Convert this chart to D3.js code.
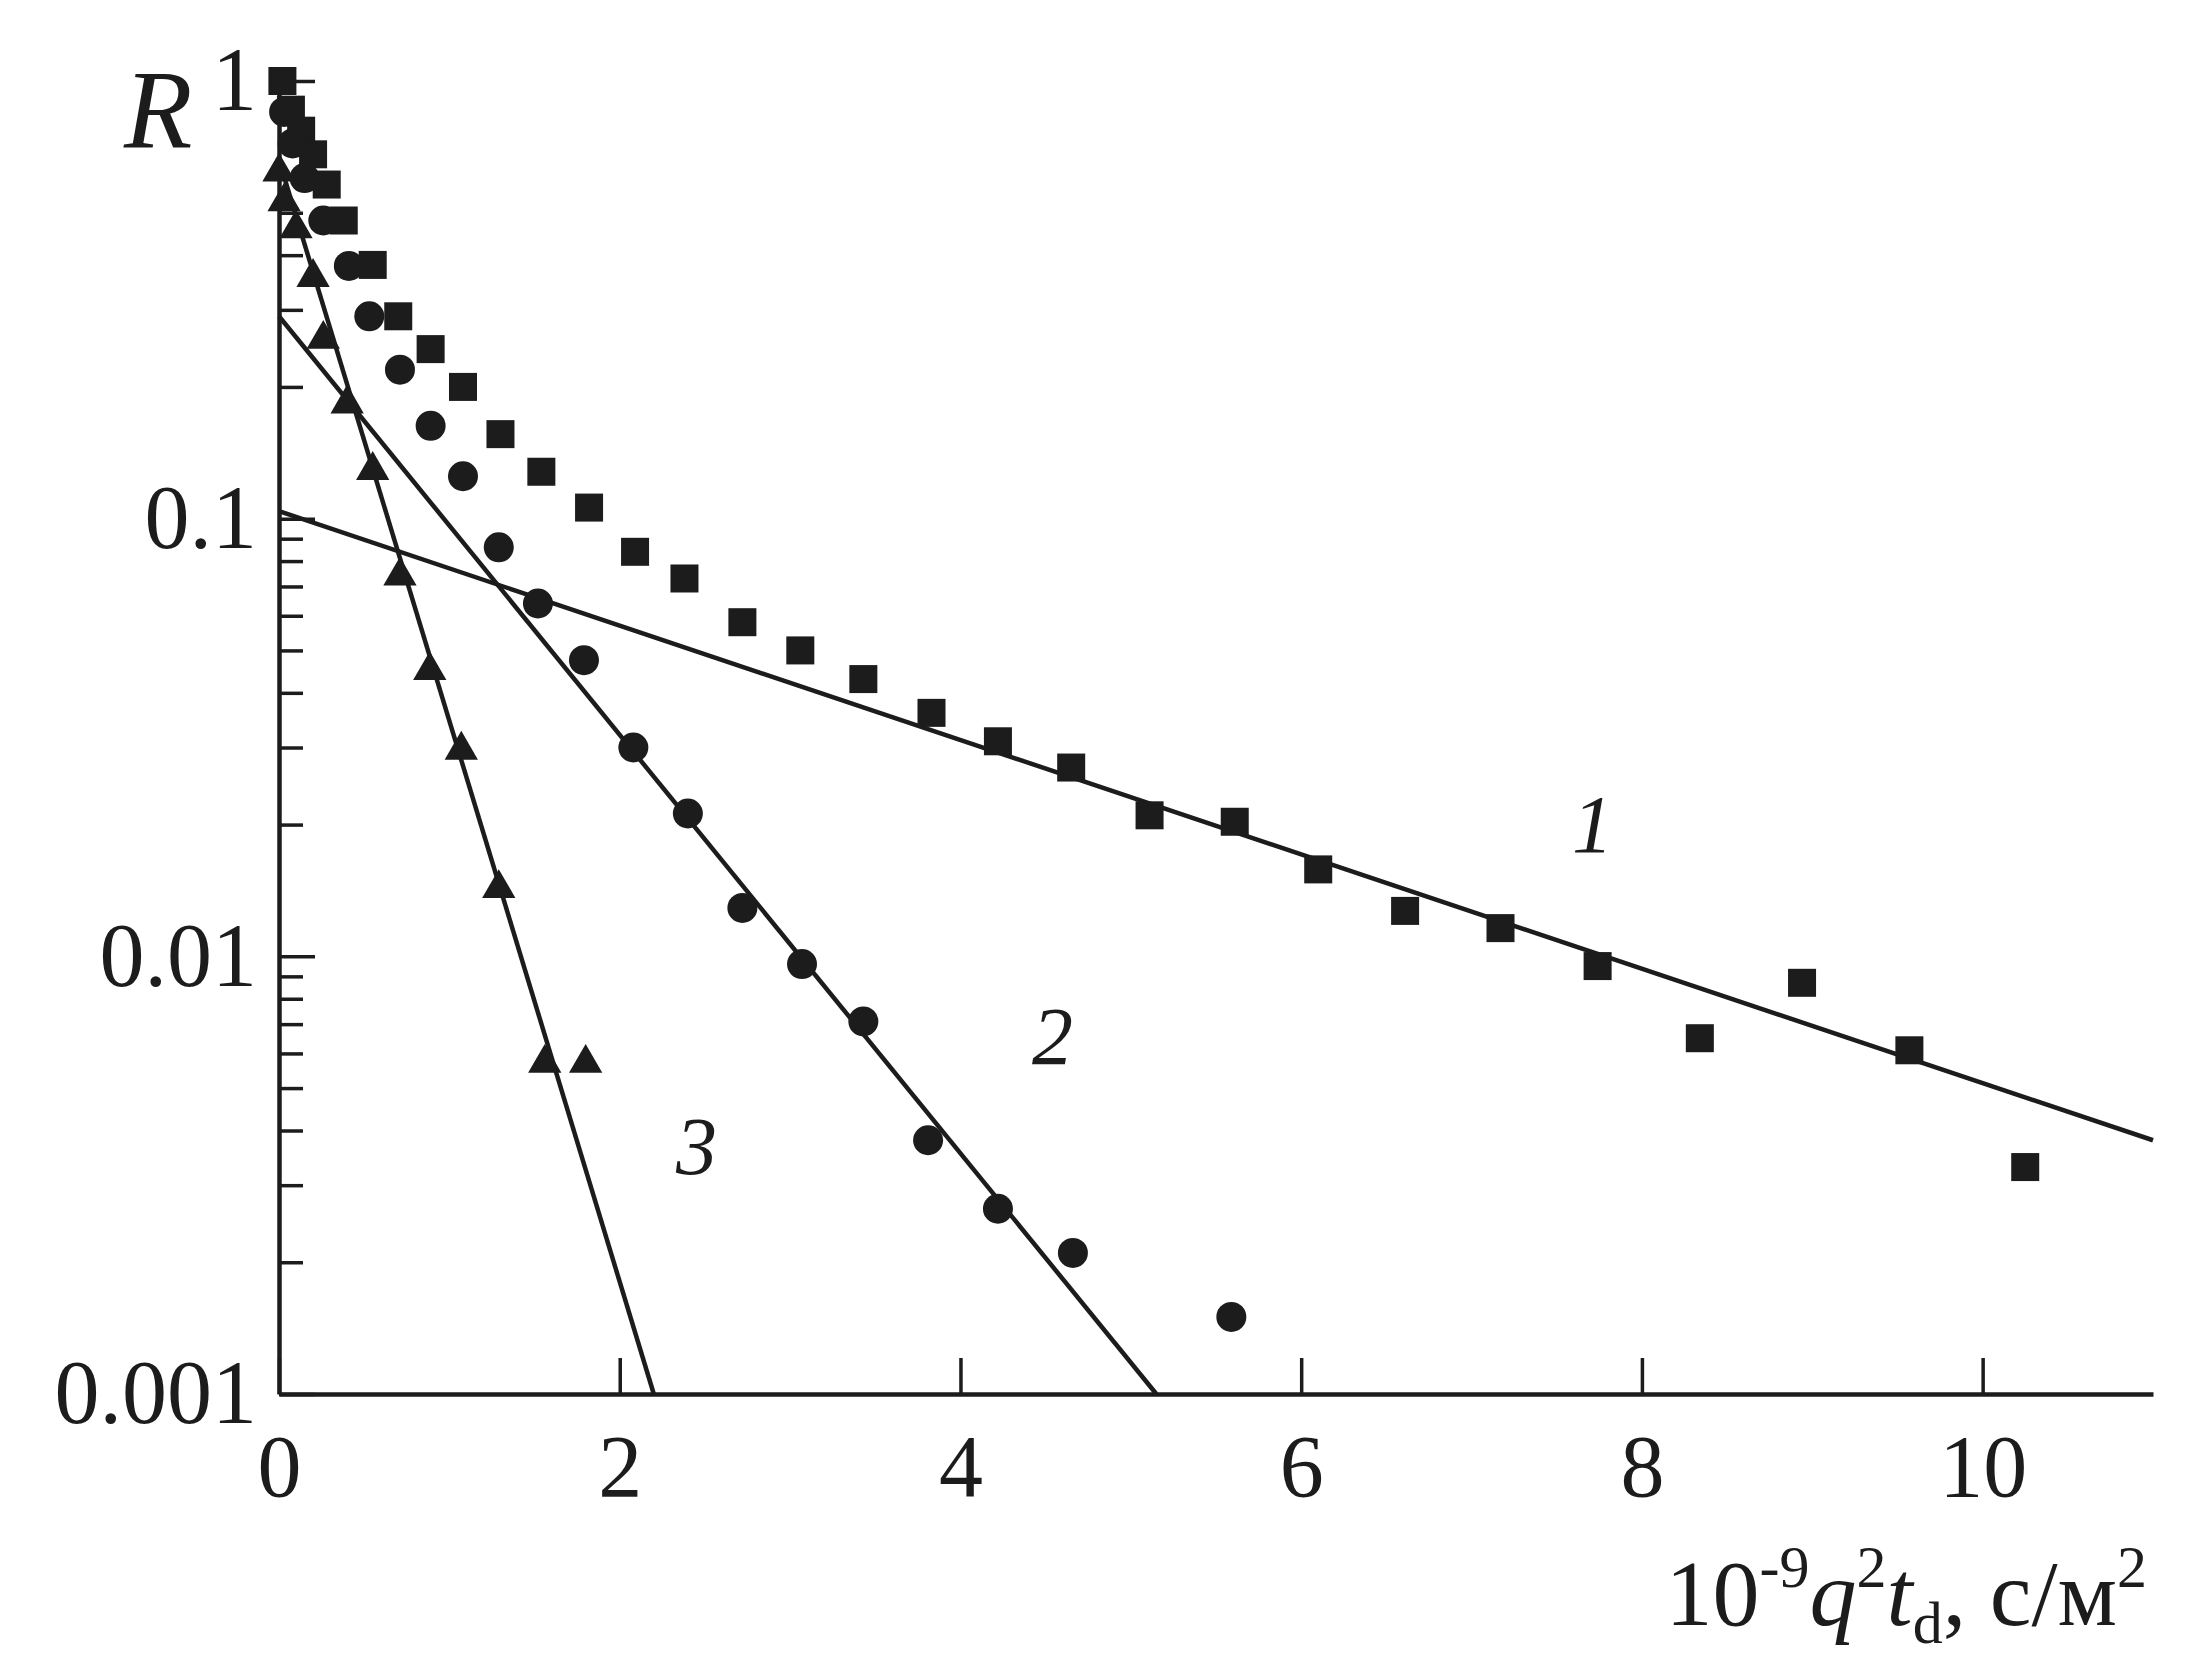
<!DOCTYPE html>
<html>
<head>
<meta charset="utf-8">
<script src="https://cdn.jsdelivr.net/npm/d3@7"></script>
<style>
  body { margin: 0; background: #fff; }
  text { font-family: "Liberation Serif", "DejaVu Serif", serif; fill: #1c1c1c; }
</style>
</head>
<body>
<div id="master"></div>
<script>
// curve 1 (squares)
let sqX = [0.02, 0.07, 0.13, 0.20, 0.28, 0.38, 0.55, 0.70, 0.89, 1.08, 1.30, 1.54, 1.82, 2.09, 2.38, 2.72, 3.06, 3.43, 3.83, 4.22, 4.65, 5.11, 5.61, 6.10, 6.61, 7.17, 7.74, 8.34, 8.94, 9.57, 10.25]
let sqR = [1.0, 0.86, 0.77, 0.68, 0.58, 0.48, 0.38, 0.29, 0.244, 0.20, 0.156, 0.128, 0.106, 0.084, 0.073, 0.058, 0.050, 0.043, 0.036, 0.031, 0.027, 0.021, 0.0203, 0.0158, 0.0127, 0.0116, 0.0095, 0.0065, 0.0087, 0.0061, 0.0033]
// curve 2 (circles)
let ciX = [0.03, 0.08, 0.15, 0.26, 0.41, 0.53, 0.71, 0.89, 1.08, 1.29, 1.52, 1.79, 2.08, 2.40, 2.72, 3.07, 3.43, 3.81, 4.22, 4.66, 5.59]
let ciR = [0.85, 0.72, 0.60, 0.48, 0.378, 0.29, 0.219, 0.163, 0.125, 0.086, 0.064, 0.0475, 0.030, 0.0212, 0.0129, 0.0096, 0.0071, 0.0038, 0.00265, 0.0021, 0.0015]
// curve 3 (triangles)
let trX = [0.0, 0.03, 0.10, 0.20, 0.26, 0.40, 0.55, 0.71, 0.885, 1.07, 1.29, 1.56, 1.80]
let trR = [0.62, 0.53, 0.46, 0.356, 0.257, 0.183, 0.129, 0.074, 0.045, 0.0296, 0.0143, 0.0057, 0.0057]

// fitted straight lines (end points)
let fit1X = [0, 11],   fit1R = [0.104, 0.0038]
let fit2X = [0, 5.15], fit2R = [0.29, 0.001]
let fit3X = [0, 2.2],  fit3R = [0.66, 0.001]

// curve numbers
let curveNames = ["1", "2", "3"]
let nameX = [7.71, 4.54, 2.45]
let nameR = [0.0201, 0.0066, 0.0037]

let xTicks = [0, 2, 4, 6, 8, 10]
let yTicks = [1, 0.1, 0.01, 0.001]
let yTickLabels = ["1", "0.1", "0.01", "0.001"]

let w = 2193, h = 1677
let ink = "#1c1c1c"

let svg = d3.select("#master").append("svg").attr("width", w).attr("height", h)

let xScale = d3.scaleLinear().domain([0, 11]).range([279, 2153])
let yScale = d3.scaleLog().domain([0.001, 1]).range([1394, 81])

// minor log ticks
let minors = []
;[0.001, 0.01, 0.1].forEach(b => { for (let k = 2; k <= 9; k++) minors.push(b * k) })

let yMinor = d3.axisLeft(yScale).tickValues(minors).tickSizeInner(-24).tickSizeOuter(0).tickFormat("")
let gMinor = svg.append("g").attr("transform", "translate(" + xScale(0) + ",0)").call(yMinor)
gMinor.select(".domain").remove()

let yAxis = d3.axisLeft(yScale).tickValues(yTicks).tickSizeInner(-36).tickSizeOuter(0).tickPadding(22)
  .tickFormat((d, i) => yTickLabels[i])
let gy = svg.append("g").attr("transform", "translate(" + xScale(0) + ",0)").call(yAxis)

let xAxis = d3.axisBottom(xScale).tickValues(xTicks).tickSizeInner(-36).tickSizeOuter(0).tickPadding(40)
let gx = svg.append("g").attr("transform", "translate(0," + yScale(0.001) + ")").call(xAxis)

svg.selectAll(".tick line").attr("stroke", ink).attr("stroke-width", 3.5)
svg.selectAll(".domain").attr("stroke", ink).attr("stroke-width", 4.5)
svg.selectAll(".tick text").attr("fill", ink)
  .style("font-family", "'Liberation Serif', serif")
gy.selectAll(".tick text").attr("font-size", 90).attr("dy", "0.32em")
gx.selectAll(".tick text").attr("font-size", 88).attr("dy", "0.71em")

// fitted lines
let line = d3.line().x(d => xScale(d[0])).y(d => yScale(d[1]))
;[[fit1X, fit1R], [fit2X, fit2R], [fit3X, fit3R]].forEach(f => {
  svg.append("path")
    .attr("d", line(d3.zip(f[0], f[1])))
    .attr("fill", "none").attr("stroke", ink).attr("stroke-width", 4.5)
})

// squares
let sq = 28
svg.append("g").selectAll("rect").data(d3.zip(sqX, sqR)).enter().append("rect")
  .attr("x", d => xScale(d[0]) - sq / 2)
  .attr("y", d => yScale(d[1]) - sq / 2)
  .attr("width", sq).attr("height", sq)
  .attr("fill", ink)

// circles
svg.append("g").selectAll("circle").data(d3.zip(ciX, ciR)).enter().append("circle")
  .attr("cx", d => xScale(d[0]))
  .attr("cy", d => yScale(d[1]))
  .attr("r", 15)
  .attr("fill", ink)

// triangles
let tri = d3.symbol().type(d3.symbolTriangle).size(480)
svg.append("g").selectAll("path").data(d3.zip(trX, trR)).enter().append("path")
  .attr("d", tri)
  .attr("transform", d => "translate(" + xScale(d[0]) + "," + yScale(d[1]) + ")")
  .attr("fill", ink)

// curve numbers
svg.append("g").selectAll("text").data(curveNames).enter().append("text")
  .attr("x", (d, i) => xScale(nameX[i]))
  .attr("y", (d, i) => yScale(nameR[i]))
  .attr("dy", "0.35em")
  .attr("text-anchor", "middle")
  .attr("font-size", 82)
  .attr("font-style", "italic")
  .text(d => d)

// y title
svg.append("text").attr("x", 124).attr("y", 147)
  .attr("font-size", 112).attr("font-style", "italic").text("R")

// x title
let xt = svg.append("text").attr("x", 2147).attr("y", 1625)
  .attr("text-anchor", "end").attr("font-size", 94)
xt.append("tspan").text("10")
xt.append("tspan").attr("dy", -38).attr("font-size", 60).text("-9")
xt.append("tspan").attr("dy", 38).attr("font-style", "italic").text("q")
xt.append("tspan").attr("dy", -38).attr("font-size", 60).text("2")
xt.append("tspan").attr("dy", 38).attr("font-style", "italic").text("t")
xt.append("tspan").attr("dy", 18).attr("font-size", 60).text("d")
xt.append("tspan").attr("dy", -18).text(", с/м")
xt.append("tspan").attr("dy", -38).attr("font-size", 60).text("2")
</script>
</body>
</html>
